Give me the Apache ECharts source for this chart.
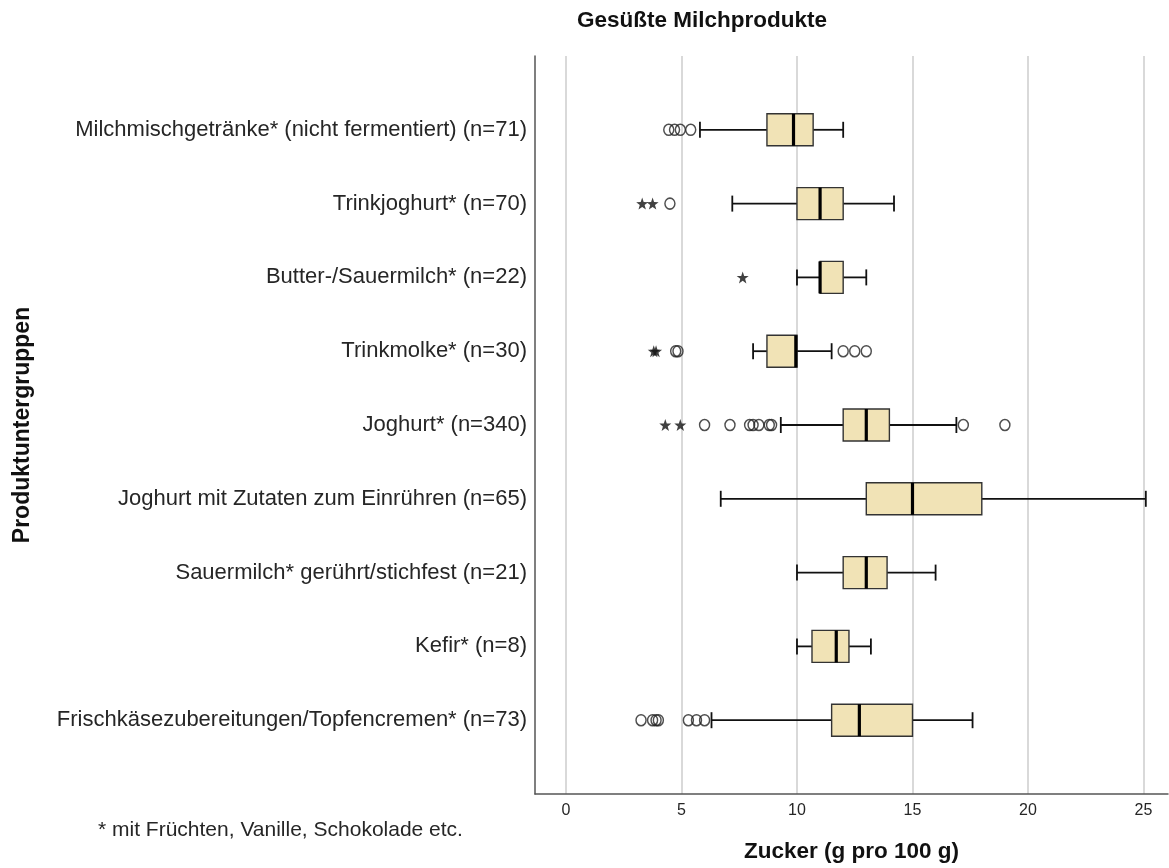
<!DOCTYPE html>
<html>
<head>
<meta charset="utf-8">
<script src="https://cdn.jsdelivr.net/npm/echarts@6/dist/echarts.min.js"></script>
<style>
  html, body { margin: 0; padding: 0; background: #fff; }
  #chart { width: 1169px; height: 868px; }
</style>
</head>
<body>
<div id="chart"></div>
<script>
// Kategorien (von oben nach unten)
var categories = [
  'Milchmischgetränke* (nicht fermentiert) (n=71)',
  'Trinkjoghurt* (n=70)',
  'Butter-/Sauermilch* (n=22)',
  'Trinkmolke* (n=30)',
  'Joghurt* (n=340)',
  'Joghurt mit Zutaten zum Einrühren (n=65)',
  'Sauermilch* gerührt/stichfest (n=21)',
  'Kefir* (n=8)',
  'Frischkäsezubereitungen/Topfencremen* (n=73)'
];

// Boxplot-Kennwerte (g Zucker pro 100 g)
var boxMin    = [5.8,  7.2,  10.0, 8.1,  9.3,  6.7,  10.0, 10.0, 6.3];
var boxQ1     = [8.7,  10.0, 11.0, 8.7,  12.0, 13.0, 12.0, 10.65, 11.5];
var boxMedian = [9.85, 11.0, 11.0, 9.95, 13.0, 15.0, 13.0, 11.7, 12.7];
var boxQ3     = [10.7, 12.0, 12.0, 10.0, 14.0, 18.0, 13.9, 12.25, 15.0];
var boxMax    = [12.0, 14.2, 13.0, 11.5, 16.9, 25.1, 16.0, 13.2, 17.6];

// Ausreißer (Kreise) und Extremwerte (Sterne)
var circleOutliers = [
  [4.45, 4.7, 4.95, 5.4],
  [4.5],
  [],
  [4.75, 4.85, 12.0, 12.5, 13.0],
  [6.0, 7.1, 7.95, 8.1, 8.35, 8.8, 8.9, 17.2, 19.0],
  [],
  [],
  [],
  [3.25, 3.75, 3.9, 4.0, 5.3, 5.65, 6.0]
];
var starOutliers = [
  [],
  [3.3, 3.75],
  [7.65],
  [3.8, 3.9],
  [4.3, 4.95],
  [],
  [],
  [],
  []
];

var xTicks = [0, 5, 10, 15, 20, 25];

var FONT = "'Liberation Sans', Arial, sans-serif";

// leere Plätze oben und unten wie im Original
var axisCats = [''].concat(categories, ['']);

var boxData = categories.map(function (c, i) {
  return [i + 1, boxMin[i], boxQ1[i], boxMedian[i], boxQ3[i], boxMax[i]];
});

var circleData = [];
var starData = [];
categories.forEach(function (c, i) {
  circleOutliers[i].forEach(function (v) { circleData.push([v, i + 1]); });
  starOutliers[i].forEach(function (v) { starData.push([v, i + 1]); });
});

var chart = echarts.init(document.getElementById('chart'));

function renderBox(params, api) {
  var cat = api.value(0);
  var pMin = api.coord([api.value(1), cat]);
  var pQ1 = api.coord([api.value(2), cat]);
  var pMed = api.coord([api.value(3), cat]);
  var pQ3 = api.coord([api.value(4), cat]);
  var pMax = api.coord([api.value(5), cat]);
  var y = pMed[1];
  var h = 32;      // Boxhöhe
  var cap = 8;     // halbe Länge der Whisker-Enden
  var whisker = { stroke: '#111', lineWidth: 1.8 };
  return {
    type: 'group',
    children: [
      { type: 'line', shape: { x1: pMin[0], y1: y, x2: pQ1[0], y2: y }, style: whisker },
      { type: 'line', shape: { x1: pQ3[0], y1: y, x2: pMax[0], y2: y }, style: whisker },
      { type: 'line', shape: { x1: pMin[0], y1: y - cap, x2: pMin[0], y2: y + cap }, style: whisker },
      { type: 'line', shape: { x1: pMax[0], y1: y - cap, x2: pMax[0], y2: y + cap }, style: whisker },
      {
        type: 'rect',
        shape: { x: pQ1[0], y: y - h / 2, width: pQ3[0] - pQ1[0], height: h },
        style: { fill: '#f1e3b6', stroke: '#333', lineWidth: 1.4 }
      },
      { type: 'line', shape: { x1: pMed[0], y1: y - h / 2, x2: pMed[0], y2: y + h / 2 }, style: { stroke: '#000', lineWidth: 3.2 } }
    ]
  };
}

var option = {
  backgroundColor: '#fff',
  animation: false,
  grid: { left: 535, right: 1, top: 56, bottom: 71 },
  graphic: [
    {
      type: 'text', x: 702, y: 21,
      style: { text: 'Gesüßte Milchprodukte', textAlign: 'center', textVerticalAlign: 'middle',
               font: 'bold 22.5px ' + FONT, fill: '#111' }
    },
    {
      type: 'text', x: 98, y: 830,
      style: { text: '* mit Früchten, Vanille, Schokolade etc.', textAlign: 'left', textVerticalAlign: 'middle',
               font: '21px ' + FONT, fill: '#262626' }
    }
  ],
  xAxis: {
    type: 'value',
    min: -1.34,
    max: 26.06,
    axisLine: { show: true, lineStyle: { color: '#555', width: 1.5 } },
    axisTick: { show: false, customValues: xTicks },
    axisLabel: { customValues: xTicks, fontSize: 16, color: '#262626', margin: 9, fontFamily: FONT },
    splitLine: { show: true, lineStyle: { color: '#cdcdcd', width: 1.5 } },
    name: 'Zucker (g pro 100 g)',
    nameLocation: 'middle',
    nameGap: 46,
    nameTextStyle: { fontWeight: 'bold', fontSize: 22.5, color: '#111', fontFamily: FONT }
  },
  yAxis: {
    type: 'category',
    inverse: true,
    boundaryGap: false,
    data: axisCats,
    axisLine: { show: true, onZero: false, lineStyle: { color: '#555', width: 1.5 } },
    axisTick: { show: false },
    splitLine: { show: false },
    axisLabel: { fontSize: 22, color: '#262626', margin: 8, fontFamily: FONT, interval: 0 },
    name: 'Produktuntergruppen',
    nameLocation: 'middle',
    nameGap: 501,
    nameTextStyle: { fontWeight: 'bold', fontSize: 23, color: '#111', fontFamily: FONT }
  },
  series: [
    {
      type: 'custom',
      renderItem: renderBox,
      encode: { x: [1, 2, 3, 4, 5], y: 0 },
      data: boxData,
      z: 3
    },
    {
      type: 'scatter',
      data: circleData,
      symbol: 'circle',
      symbolSize: [10, 11],
      itemStyle: { color: 'rgba(255,255,255,0)', borderColor: '#222', borderWidth: 1.5 },
      z: 4
    },
    {
      type: 'scatter',
      data: starData,
      symbol: 'path://M0,-10 L2.35,-3.24 L9.51,-3.09 L3.8,1.24 L5.88,8.09 L0,4 L-5.88,8.09 L-3.8,1.24 L-9.51,-3.09 L-2.35,-3.24 Z',
      symbolSize: 12,
      itemStyle: { color: '#111' },
      z: 4
    }
  ]
};

chart.setOption(option);
</script>
</body>
</html>
